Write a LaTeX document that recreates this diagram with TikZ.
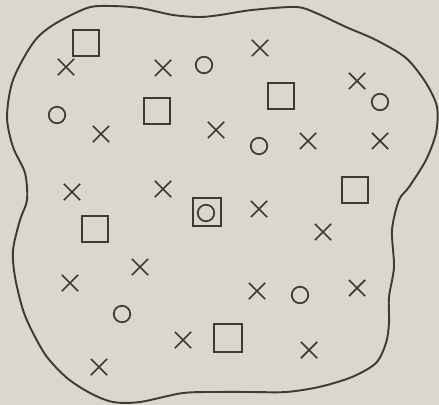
\documentclass[tikz,border=0pt]{standalone}
\usepackage{tikz}
\usetikzlibrary{shapes.misc, positioning}
\definecolor{paper}{HTML}{DAD8CE}
\definecolor{ink}{HTML}{3E3A36}
\tikzset{
	crossnode/.style={
			cross out,
			draw=ink,
			line width=1pt,
			minimum size=0.29cm,
			inner sep=0pt
		},
	ringnode/.style={
			circle,
			draw=ink,
			line width=1pt,
			minimum size=0.33cm,
			inner sep=0pt
		},
	boxnode/.style={
			rectangle,
			draw=ink,
			line width=1pt,
			minimum size=0.51cm,
			inner sep=0pt
		},
	outline/.style={
			draw=ink,
			line width=1.1pt
		}
}

\begin{document}
\begin{tikzpicture}[x=0.02cm, y=-0.02cm]
\fill[paper] (0,0) rectangle (439,405);
\useasboundingbox (0,0) rectangle (439,405);

\draw[outline] plot[smooth cycle] coordinates {
(7,117) (13,80) (33,43) (53,25) (87,8) (110,6) (140,8) (173,15) (200,17)
(220,15) (252,10) (296,7) (316,13) (346,27) (376,40) (406,58) (426,83)
(437,107) (436,133) (426,160) (409,187) (399,200) (392,230) (394,267)
(389,297) (389,323) (386,343) (376,363) (352,377) (319,387) (286,392)
(252,392) (220,392) (183,393) (140,402) (113,402) (90,393) (67,378)
(47,357) (33,333) (23,310) (15,277) (13,250) (20,220) (27,200) (25,173)
(13,147)};

\node[boxnode] (b1) at (86,43)  {};
\node[boxnode] (b2) at (157,111) {};
\node[boxnode] (b3) at (281,96)  {};
\node[boxnode] (b4) at (355,190) {};
\node[boxnode] (b5) at (95,229)  {};
\node[boxnode, minimum size=0.56cm] (b6) at (207,212) {};
\node[boxnode, minimum size=0.56cm] (b7) at (228,338) {};

\node[ringnode] (r1) at (204,65)  {};
\node[ringnode] (r2) at (57,115)  {};
\node[ringnode] (r3) at (380,102) {};
\node[ringnode] (r4) at (259,146) {};
\node[ringnode] (r5) at (122,314) {};
\node[ringnode] (r6) at (300,295) {};
\node[ringnode] (r7) at (206,213) {};

\node[crossnode] (c1)  at (66,67)   {};
\node[crossnode] (c2)  at (163,68)  {};
\node[crossnode] (c3)  at (101,134) {};
\node[crossnode] (c4)  at (260,48)  {};
\node[crossnode] (c5)  at (357,81)  {};
\node[crossnode] (c6)  at (216,130) {};
\node[crossnode] (c7)  at (308,141) {};
\node[crossnode] (c8)  at (380,141) {};
\node[crossnode] (c9)  at (72,192)  {};
\node[crossnode] (c10) at (163,189) {};
\node[crossnode] (c11) at (259,209) {};
\node[crossnode] (c12) at (323,232) {};
\node[crossnode] (c13) at (140,267) {};
\node[crossnode] (c14) at (70,283)  {};
\node[crossnode] (c15) at (257,291) {};
\node[crossnode] (c16) at (357,288) {};
\node[crossnode] (c17) at (183,340) {};
\node[crossnode] (c18) at (99,367)  {};
\node[crossnode] (c19) at (309,350) {};
\end{tikzpicture}
\end{document}
